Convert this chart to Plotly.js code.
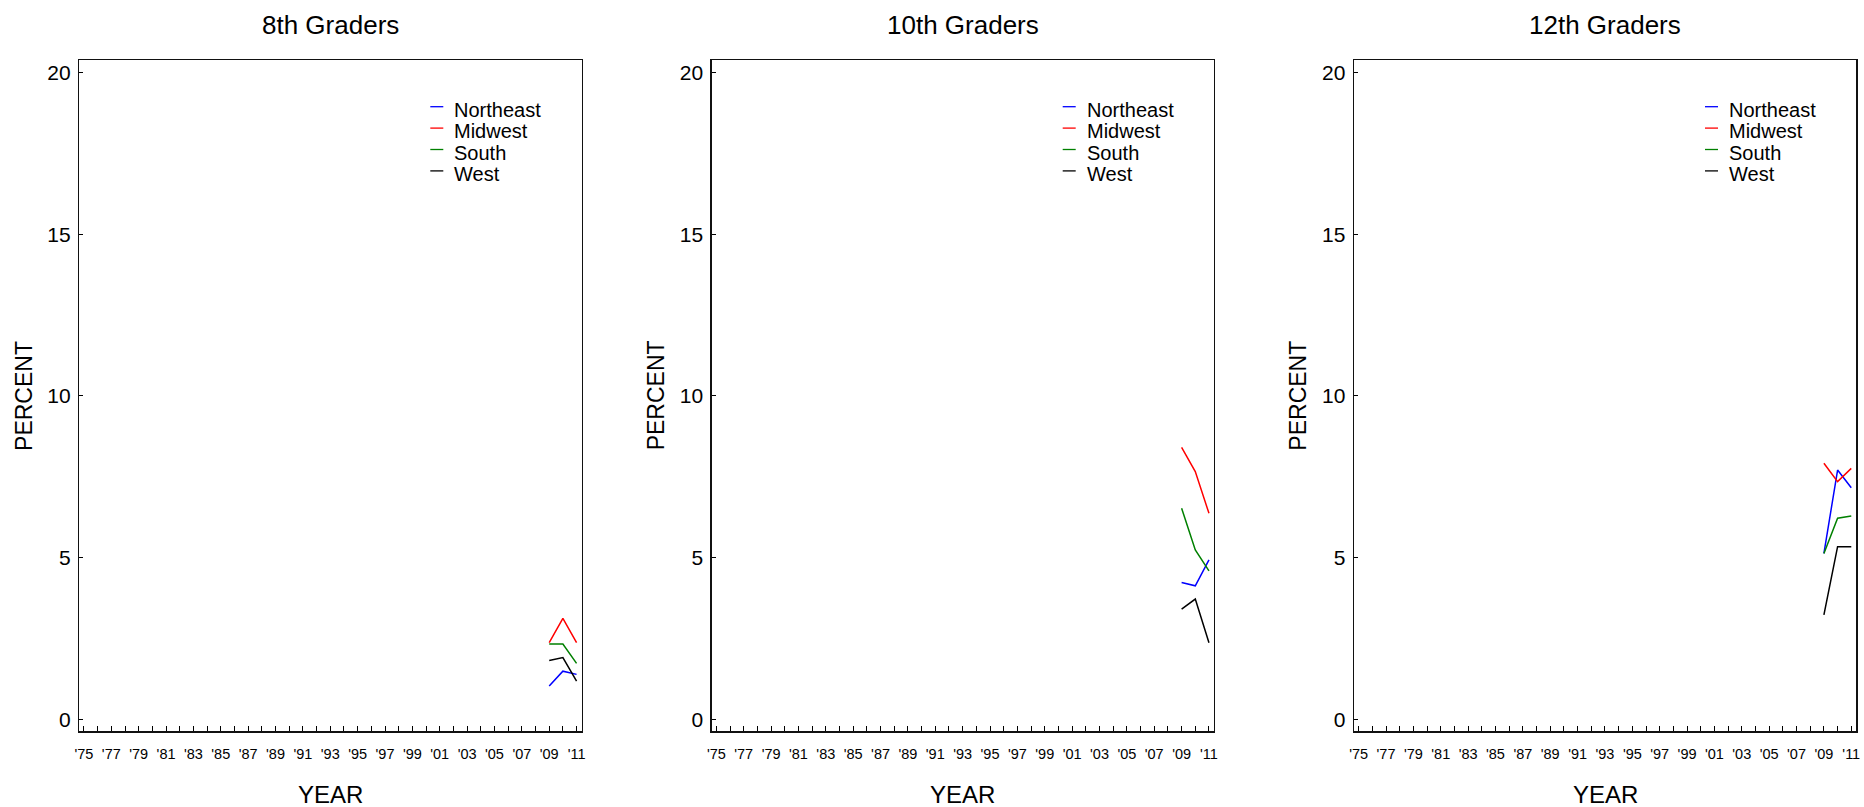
<!DOCTYPE html>
<html>
<head>
<meta charset="utf-8">
<script src="https://cdn.plot.ly/plotly-3.0.1.min.js"></script>
<style>
html,body{margin:0;padding:0;background:#fff;}
#chart{width:1864px;height:807px;}
</style>
</head>
<body>
<div id="chart"></div>
<script>
// ---- Data ----
const years = [2009, 2010, 2011];
const regions = ["Northeast", "Midwest", "South", "West"];
const regionColors = ["#0000ff", "#ff0000", "#008000", "#000000"];
const panelTitles = ["8th Graders", "10th Graders", "12th Graders"];

const grade8Northeast = [1.03, 1.49, 1.39];
const grade8Midwest   = [2.37, 3.12, 2.37];
const grade8South     = [2.33, 2.33, 1.73];
const grade8West      = [1.82, 1.91, 1.18];

const grade10Northeast = [4.23, 4.13, 4.93];
const grade10Midwest   = [8.41, 7.66, 6.37];
const grade10South     = [6.53, 5.24, 4.59];
const grade10West      = [3.41, 3.72, 2.37];

const grade12Northeast = [5.13, 7.71, 7.16];
const grade12Midwest   = [7.92, 7.35, 7.76];
const grade12South     = [5.13, 6.22, 6.29];
const grade12West      = [3.23, 5.34, 5.34];

const tickYears = [1975,1976,1977,1978,1979,1980,1981,1982,1983,1984,1985,1986,1987,1988,1989,1990,1991,1992,1993,1994,1995,1996,1997,1998,1999,2000,2001,2002,2003,2004,2005,2006,2007,2008,2009,2010,2011];
const tickLabels = ["'75","","'77","","'79","","'81","","'83","","'85","","'87","","'89","","'91","","'93","","'95","","'97","","'99","","'01","","'03","","'05","","'07","","'09","","'11"];
const yTicks = [0, 5, 10, 15, 20];

const panelSeries = [
  [grade8Northeast, grade8Midwest, grade8South, grade8West],
  [grade10Northeast, grade10Midwest, grade10South, grade10West],
  [grade12Northeast, grade12Midwest, grade12South, grade12West]
];

// ---- Layout geometry ----
const W = 1864, H = 807;
const xDomains = [[79.3/W, 581.5/W], [711.7/W, 1213.9/W], [1354/W, 1856.2/W]];
const yDomain = [1 - 731.3/H, 1 - 60/H];
const FONT = "Liberation Sans, Arial, Helvetica, sans-serif";

const traces = [];
panelSeries.forEach((series, p) => {
  series.forEach((vals, r) => {
    traces.push({
      x: years, y: vals, type: "scatter", mode: "lines",
      name: regions[r],
      line: {color: regionColors[r], width: 1.5},
      xaxis: p === 0 ? "x" : "x" + (p + 1),
      yaxis: p === 0 ? "y" : "y" + (p + 1),
      showlegend: false
    });
  });
});

const layout = {
  width: W, height: H,
  margin: {l: 0, r: 0, t: 0, b: 0},
  paper_bgcolor: "#fff", plot_bgcolor: "#fff",
  font: {family: FONT, color: "#000"},
  showlegend: false,
  annotations: [],
  shapes: []
};

for (let p = 0; p < 3; p++) {
  const sx = p === 0 ? "" : String(p + 1);
  layout["xaxis" + sx] = {
    domain: xDomains[p], anchor: "y" + sx,
    range: [1974.66, 2011.36],
    tickmode: "array", tickvals: tickYears, ticktext: tickLabels,
    ticks: "inside", ticklen: 5, tickwidth: 1, tickcolor: "#000",
    tickfont: {size: 14.5, family: FONT, color: "#000"},
    ticklabelstandoff: 9,
    showgrid: false, zeroline: false,
    showline: true, linecolor: "#111", linewidth: 1.4, mirror: true,
    fixedrange: true
  };
  layout["yaxis" + sx] = {
    domain: yDomain, anchor: "x" + sx,
    range: [-0.37, 20.39],
    tickmode: "array", tickvals: yTicks,
    ticks: "inside", ticklen: 4, tickwidth: 1, tickcolor: "#000",
    tickfont: {size: 21, family: FONT, color: "#000"},
    ticklabelstandoff: 3,
    showgrid: false, zeroline: false,
    showline: true, linecolor: "#111", linewidth: 1.4, mirror: true,
    fixedrange: true
  };
  const left = xDomains[p][0] * W;
  const cx = (xDomains[p][0] + xDomains[p][1]) / 2;
  layout.annotations.push({
    text: panelTitles[p], xref: "paper", yref: "paper",
    x: cx, y: 1 - 25/H, xanchor: "center", yanchor: "middle",
    showarrow: false, font: {size: 26, family: FONT, color: "#000"}
  });
  layout.annotations.push({
    text: "YEAR", xref: "paper", yref: "paper",
    x: cx, y: 1 - 794/H, xanchor: "center", yanchor: "middle",
    showarrow: false, font: {size: 24, family: FONT, color: "#000"}
  });
  layout.annotations.push({
    text: "PERCENT", xref: "paper", yref: "paper", textangle: -90,
    x: (left - 56)/W, y: (yDomain[0] + yDomain[1]) / 2,
    xanchor: "center", yanchor: "middle",
    showarrow: false, font: {size: 23, family: FONT, color: "#000"}
  });
  // legend (drawn per panel, small swatch + label)
  regions.forEach((name, r) => {
    const rowY = 110.7 + 21.4 * r;
    layout.shapes.push({
      type: "line", xref: "paper", yref: "paper",
      x0: (left + 351)/W, x1: (left + 364)/W,
      y0: 1 - (rowY - 4)/H, y1: 1 - (rowY - 4)/H,
      line: {color: regionColors[r], width: 1.3}
    });
    layout.annotations.push({
      text: name, xref: "paper", yref: "paper",
      x: (left + 375)/W, y: 1 - (rowY - 1)/H,
      xanchor: "left", yanchor: "middle", xshift: -2,
      showarrow: false, font: {size: 20, family: FONT, color: "#000"}
    });
  });
}

Plotly.newPlot("chart", traces, layout, {displayModeBar: false, staticPlot: true});
</script>
</body>
</html>
